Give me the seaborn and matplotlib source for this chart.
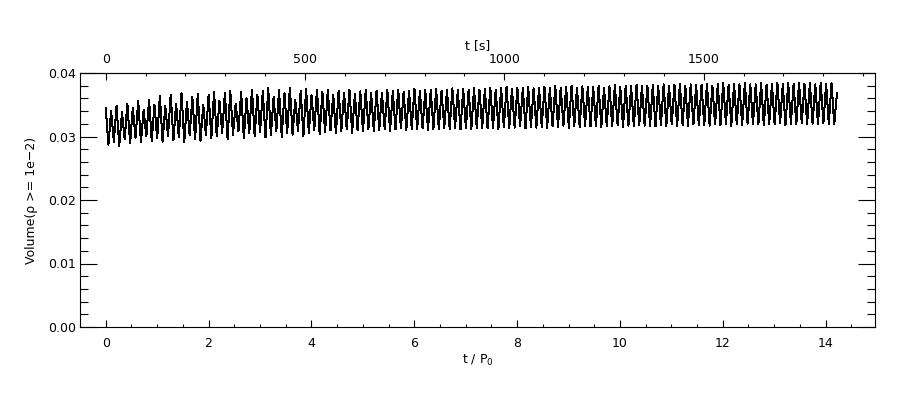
import numpy as np
import pandas as pd
import matplotlib
matplotlib.use("Agg")
import matplotlib.pyplot as plt
from matplotlib.ticker import MultipleLocator, FormatStrFormatter
import seaborn as sns

# ---- data ----
P0_seconds = 129.0          # t [s] per unit of t/P0 (top axis)
t_start, t_end = 0.0, 14.22  # time span of the record in units of P0

# per-cycle maxima and minima of Volume(rho >= 1e-2), 135 cycles
peaks = [
    0.0345, 0.0340, 0.0348, 0.0338, 0.0352, 0.0345, 0.0356, 0.0342, 0.0358, 0.0350,
    0.0364, 0.0348, 0.0366, 0.0352, 0.0368, 0.0355, 0.0362, 0.0367, 0.0350, 0.0366,
    0.0370, 0.0356, 0.0368, 0.0372, 0.0352, 0.0370, 0.0360, 0.0374, 0.0365, 0.0371,
    0.0376, 0.0362, 0.0373, 0.0368, 0.0377, 0.0358, 0.0372, 0.0375, 0.0365, 0.0374,
    0.0370, 0.0373, 0.0366, 0.0372, 0.0369, 0.0374, 0.0367, 0.0371, 0.0373, 0.0368,
    0.0372, 0.0369, 0.0373, 0.0371, 0.0374, 0.0370, 0.0372, 0.0375, 0.0371, 0.0373,
    0.0373, 0.0375, 0.0372, 0.0374, 0.0376, 0.0373, 0.0375, 0.0374, 0.0376, 0.0374,
    0.0375, 0.0377, 0.0374, 0.0376, 0.0378, 0.0375, 0.0377, 0.0376, 0.0378, 0.0376,
    0.0377, 0.0378, 0.0376, 0.0379, 0.0377, 0.0378, 0.0380, 0.0377, 0.0379, 0.0378,
    0.0378, 0.0380, 0.0377, 0.0379, 0.0381, 0.0378, 0.0380, 0.0379, 0.0381, 0.0379,
    0.0380, 0.0381, 0.0379, 0.0382, 0.0380, 0.0381, 0.0383, 0.0380, 0.0382, 0.0381,
    0.0381, 0.0383, 0.0380, 0.0382, 0.0384, 0.0381, 0.0383, 0.0382, 0.0384, 0.0382,
    0.0382, 0.0384, 0.0381, 0.0383, 0.0385, 0.0382, 0.0384, 0.0383, 0.0385, 0.0383,
    0.0384, 0.0382, 0.0385, 0.0383, 0.0384,
]
troughs = [
    0.0287, 0.0292, 0.0285, 0.0296, 0.0289, 0.0298, 0.0291, 0.0300, 0.0293, 0.0297,
    0.0292, 0.0301, 0.0294, 0.0299, 0.0291, 0.0302, 0.0296, 0.0293, 0.0303, 0.0297,
    0.0300, 0.0306, 0.0296, 0.0303, 0.0308, 0.0298, 0.0305, 0.0301, 0.0307, 0.0299,
    0.0302, 0.0309, 0.0299, 0.0306, 0.0303, 0.0308, 0.0301, 0.0305, 0.0310, 0.0304,
    0.0307, 0.0310, 0.0305, 0.0309, 0.0311, 0.0306, 0.0310, 0.0308, 0.0312, 0.0309,
    0.0310, 0.0312, 0.0309, 0.0311, 0.0313, 0.0310, 0.0312, 0.0311, 0.0313, 0.0310,
    0.0312, 0.0311, 0.0313, 0.0312, 0.0314, 0.0311, 0.0313, 0.0312, 0.0314, 0.0313,
    0.0313, 0.0314, 0.0312, 0.0315, 0.0313, 0.0314, 0.0316, 0.0313, 0.0315, 0.0314,
    0.0315, 0.0314, 0.0316, 0.0315, 0.0317, 0.0314, 0.0316, 0.0315, 0.0317, 0.0316,
    0.0316, 0.0315, 0.0317, 0.0316, 0.0318, 0.0315, 0.0317, 0.0316, 0.0318, 0.0317,
    0.0317, 0.0316, 0.0318, 0.0317, 0.0319, 0.0316, 0.0318, 0.0317, 0.0319, 0.0318,
    0.0318, 0.0317, 0.0319, 0.0318, 0.0320, 0.0317, 0.0319, 0.0318, 0.0320, 0.0319,
    0.0319, 0.0318, 0.0320, 0.0319, 0.0321, 0.0318, 0.0320, 0.0319, 0.0321, 0.0320,
    0.0320, 0.0319, 0.0321, 0.0320, 0.0319,
]
final_value = 0.0368

y_ticks = [0.00, 0.01, 0.02, 0.03, 0.04]
x_ticks = [0, 2, 4, 6, 8, 10, 12, 14]
top_ticks = [0, 500, 1000, 1500]

# ---- build the uniformly sampled series ----
volume = []
for p, tr in zip(peaks, troughs):
    volume.extend([p, tr])
volume.append(final_value)
t = np.linspace(t_start, t_end, len(volume))
df = pd.DataFrame({"t": t, "volume": volume})

# ---- figure ----
sns.set_style("white")
plt.rcParams["font.family"] = ["DejaVu Sans"]
plt.rcParams["font.size"] = 9
for key in ("text.color", "axes.labelcolor", "xtick.color", "ytick.color"):
    plt.rcParams[key] = "black"

fig = plt.figure(figsize=(9, 4), dpi=100)
ax = fig.add_axes([80 / 900, 1 - 327 / 400, 795 / 900, 254 / 400])

sns.lineplot(data=df, x="t", y="volume", ax=ax, color="black",
             linewidth=0.72, estimator=None, sort=False, antialiased=False)

ax.set_xlim(-0.5, 14.96)
ax.set_ylim(0.0, 0.04)
ax.set_xticks(x_ticks)
ax.set_yticks(y_ticks)
ax.xaxis.set_minor_locator(MultipleLocator(0.5))
ax.yaxis.set_minor_locator(MultipleLocator(0.002))
ax.yaxis.set_major_formatter(FormatStrFormatter("%.2f"))

for s in ax.spines.values():
    s.set_linewidth(0.8)
    s.set_color("black")

ax.tick_params(axis="x", which="both", direction="in", bottom=True, top=False,
               color="black", width=0.8, labelsize=9, pad=7)
ax.tick_params(axis="x", which="major", length=5)
ax.tick_params(axis="x", which="minor", length=2.5)
ax.tick_params(axis="y", which="both", direction="in", left=True, right=True,
               color="black", width=0.8, labelsize=9, pad=3)
ax.tick_params(axis="y", which="major", length=12)
ax.tick_params(axis="y", which="minor", length=5.5)

ax.set_xlabel("t / P$_\\mathregular{0}$", fontsize=9, labelpad=2)
ax.set_ylabel("Volume(\u03c1 >= 1e\u22122)", fontsize=9, labelpad=7)

sec = ax.secondary_xaxis("top", functions=(lambda x: x * P0_seconds,
                                           lambda x: x / P0_seconds))
sec.set_xticks(top_ticks)
sec.xaxis.set_minor_locator(MultipleLocator(100))
sec.tick_params(axis="x", which="both", direction="in", color="black",
                width=0.8, labelsize=9, pad=5)
sec.tick_params(axis="x", which="major", length=5)
sec.tick_params(axis="x", which="minor", length=2.5)
sec.spines["top"].set_linewidth(0.8)
sec.set_xlabel("t [s]", fontsize=9, labelpad=3)

fig.savefig("out.png", dpi=100, facecolor="white")
